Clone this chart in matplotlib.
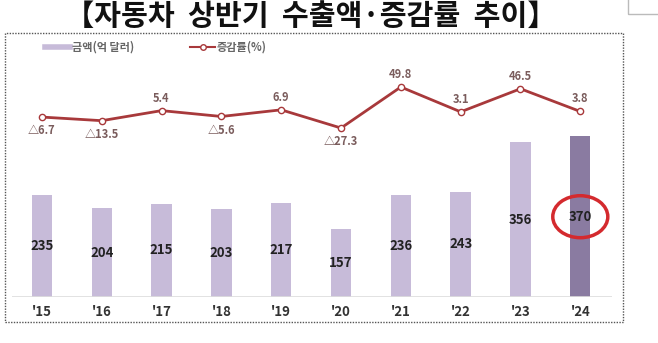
import matplotlib.pyplot as plt
from matplotlib.patches import Ellipse, Rectangle

plt.rcParams['font.family'] = ['Noto Sans CJK KR', 'DejaVu Sans']

years = ["'15", "'16", "'17", "'18", "'19", "'20", "'21", "'22", "'23", "'24"]
amount = [235, 204, 215, 203, 217, 157, 236, 243, 356, 370]
rate = [-6.7, -13.5, 5.4, -5.6, 6.9, -27.3, 49.8, 3.1, 46.5, 3.8]

W, H = 658, 343
fig = plt.figure(figsize=(W / 100, H / 100), dpi=100)

# dotted frame around the chart
fig.patches.append(Rectangle((5 / W, 1 - 322 / H), 618 / W, 289 / H, transform=fig.transFigure,
                             fill=False, ec='#555555', lw=1.0, ls=(0, (1, 1))))
# bit of a box peeking in at top right
fig.patches.append(Rectangle((628 / W, 1 - 14 / H), 40 / W, 20 / H, transform=fig.transFigure,
                             fill=False, ec='#bbbbbb', lw=1.0))

fig.text(311 / W, 1 - 16 / H, '【자동차  상반기  수출액·증감률  추이】', ha='center', va='center',
         fontsize=21, fontweight='bold', color='#111111')

ax = fig.add_axes([12 / W, 1 - 297 / H, 600 / W, 227 / H])
x = list(range(len(years)))
colors = ['#c7bbd9'] * (len(years) - 1) + ['#8a7ba1']
ax.bar(x, amount, width=0.34, color=colors, zorder=2)
ax.set_ylim(0, 227 / 0.434)
ax.set_xlim(-0.5, 9.53)
for i, v in enumerate(amount):
    ax.text(i, v / 2, str(v), ha='center', va='center', fontsize=9.5, fontweight='bold',
            color='#222222', zorder=4)
ax.axhline(0, color='#dddddd', lw=1.2, zorder=3)
for s in ax.spines.values():
    s.set_visible(False)
ax.set_yticks([])
ax.set_xticks(x)
ax.set_xticklabels(years, fontsize=9.5, fontweight='bold', color='#333333')
ax.tick_params(axis='x', length=0, pad=6)

ax2 = ax.twinx()
ax2.set_ylim(-(297 - 113.5) / 0.532, (113.5 - 70) / 0.532)
ax2.plot(x, rate, color='#a8393b', lw=2, marker='o', ms=4.5, mfc='white', mec='#a8393b',
         mew=1, zorder=5)
for i, v in enumerate(rate):
    if v < 0:
        ax2.annotate('△' + str(abs(v)), (i, v), xytext=(0, -10), textcoords='offset points',
                     ha='center', va='center', fontsize=8, fontweight='bold', color='#7a5c5c')
    else:
        ax2.annotate(str(v), (i, v), xytext=(0, 9), textcoords='offset points',
                     ha='center', va='center', fontsize=8, fontweight='bold', color='#7a5c5c')
ax2.set_yticks([])
for s in ax2.spines.values():
    s.set_visible(False)

# red highlight around the last value
ax.add_patch(Ellipse((9, 370 / 2), 0.92, 42 / 0.434, fill=False, ec='#d42a2e', lw=2.5, zorder=6))

# legend drawn by hand at the top of the frame
ly = 1 - 47 / H
fig.lines.append(plt.Line2D([45 / W, 70 / W], [ly, ly], transform=fig.transFigure,
                            color='#c7bbd9', lw=4))
fig.text(72 / W, ly, '금액(억 달러)', va='center', fontsize=8, fontweight='bold', color='#666666')
fig.lines.append(plt.Line2D([190 / W, 215 / W], [ly, ly], transform=fig.transFigure,
                            color='#a8393b', lw=1.5))
fig.lines.append(plt.Line2D([202.5 / W], [ly], transform=fig.transFigure, color='#a8393b',
                            marker='o', ms=4, mfc='white', mew=1))
fig.text(217 / W, ly, '증감률(%)', va='center', fontsize=8, fontweight='bold', color='#666666')

fig.savefig('out.png', dpi=100)
